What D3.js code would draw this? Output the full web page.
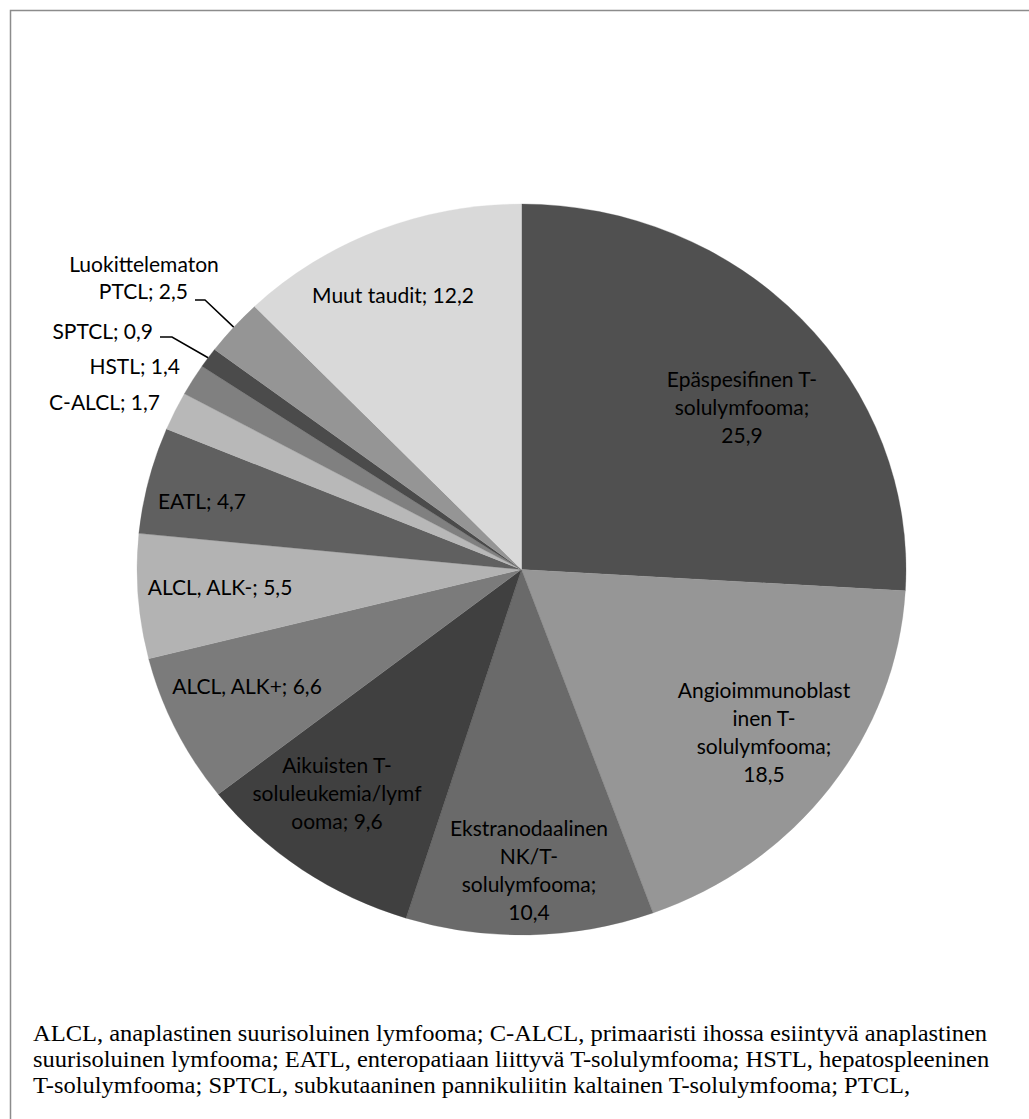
<!DOCTYPE html>
<html>
<head>
<meta charset="utf-8">
<script src="https://d3js.org/d3.v7.min.js"></script>
<style>
  body { margin: 0; background: #fff; }
</style>
</head>
<body>
<svg id="chart" width="1029" height="1119"></svg>
<script>
// data (per cent, clockwise from 12 o'clock)
const categories = [
  "Epäspesifinen T-solulymfooma", "Angioimmunoblastinen T-solulymfooma",
  "Ekstranodaalinen NK/T-solulymfooma", "Aikuisten T-soluleukemia/lymfooma",
  "ALCL, ALK+", "ALCL, ALK-", "EATL", "C-ALCL", "HSTL", "SPTCL",
  "Luokittelematon PTCL", "Muut taudit"
]
const values = [25.9, 18.5, 10.4, 9.6, 6.6, 5.5, 4.7, 1.7, 1.4, 0.9, 2.5, 12.2]
// label lines the way the original wraps them
const labelLines = [
  ["Epäspesifinen T-", "solulymfooma;", "25,9"],
  ["Angioimmunoblast", "inen T-", "solulymfooma;", "18,5"],
  ["Ekstranodaalinen", "NK/T-", "solulymfooma;", "10,4"],
  ["Aikuisten T-", "soluleukemia/lymf", "ooma; 9,6"],
  ["ALCL, ALK+; 6,6"],
  ["ALCL, ALK-; 5,5"],
  ["EATL; 4,7"],
  ["C-ALCL; 1,7"],
  ["HSTL; 1,4"],
  ["SPTCL; 0,9"],
  ["Luokittelematon", "PTCL; 2,5"],
  ["Muut taudit; 12,2"]
]
const greys = ["#505050", "#969696", "#6a6a6a", "#404040", "#7b7b7b", "#b3b3b3",
               "#606060", "#b8b8b8", "#808080", "#4b4b4b", "#959595", "#d9d9d9"]
const footnote = [
  "ALCL, anaplastinen suurisoluinen lymfooma; C-ALCL, primaaristi ihossa esiintyvä anaplastinen",
  "suurisoluinen lymfooma; EATL, enteropatiaan liittyvä T-solulymfooma; HSTL, hepatospleeninen",
  "T-solulymfooma; SPTCL, subkutaaninen pannikuliitin kaltainen T-solulymfooma; PTCL,"
]

// layout: label anchor (x, y of first line centre, anchor) - labels were hand placed in the original
const labelPos = [
  [742, 380, "middle"], [764, 691, "middle"], [529, 829, "middle"], [337, 766, "middle"],
  [247, 687, "middle"], [220, 588, "middle"], [202, 502, "middle"], [160, 403, "end"],
  [180, 367, "end"], [153, 332, "end"], [188, 265, "end"], [393, 296, "middle"]
]
const lineGap = 28
const cx = 521.5, cy = 569.5, rx = 384.5, ry = 365.5
const stretch = rx / ry   // the whole original picture is a little wider than tall

const svg = d3.select("#chart")

// chart frame (only top/left edges fall inside the picture)
svg.append("rect")
  .attr("x", 10.5).attr("y", 10.5)
  .attr("width", 1200).attr("height", 1300)
  .attr("fill", "none").attr("stroke", "#8c8c8c").attr("stroke-width", 1.5)

const pie = d3.pie().sort(null).value(d => d)
const arcs = pie(values)
const arc = d3.arc().innerRadius(0).outerRadius(ry)

svg.append("g")
  .attr("transform", `translate(${cx},${cy}) scale(${stretch},1)`)
  .selectAll("path")
  .data(arcs)
  .join("path")
  .attr("d", arc)
  .attr("fill", (d, i) => greys[i])
  .attr("stroke", (d, i) => greys[i])
  .attr("stroke-width", 0.3)
  .attr("vector-effect", "non-scaling-stroke")

// point on the ellipse rim in the middle of a slice
function rim(d) {
  const a = (d.startAngle + d.endAngle) / 2
  return [cx + rx * Math.sin(a), cy - ry * Math.cos(a)]
}

// leader lines for the two thin slices
const leaders = [
  { i: 9, from: [160, 337], knee: [172, 337] },
  { i: 10, from: [195, 300], knee: [205, 300] }
]
svg.selectAll(".leader")
  .data(leaders)
  .join("polyline")
  .attr("class", "leader")
  .attr("points", d => [d.from, d.knee, rim(arcs[d.i])].map(p => p.join(",")).join(" "))
  .attr("fill", "none").attr("stroke", "#000").attr("stroke-width", 1.5)

const labels = svg.selectAll(".lbl")
  .data(labelLines)
  .join("text")
  .attr("class", "lbl")
  .attr("text-anchor", (d, i) => labelPos[i][2])
  .style("font-family", "Lato, 'Open Sans', sans-serif")
  .style("font-size", "21px")
  .attr("fill", "#000")

labels.selectAll("tspan")
  .data((d, i) => d.map((t, j) => ({ t, j, i })))
  .join("tspan")
  .attr("x", d => d.i === 10 && d.j === 0 ? 144 : labelPos[d.i][0])
  .attr("text-anchor", d => d.i === 10 && d.j === 0 ? "middle" : null)
  .attr("y", d => labelPos[d.i][1] + d.j * (d.i === 10 ? 27 : lineGap))
  .attr("dy", "0.35em")
  .text(d => d.t)

// footnote under the chart
svg.append("g")
  .attr("transform", `translate(33,0) scale(${stretch},1)`)
  .append("text")
  .style("font-family", "'Liberation Serif', 'Times New Roman', serif")
  .style("font-size", "23.3px")
  .attr("fill", "#000")
  .selectAll("tspan")
  .data(footnote)
  .join("tspan")
  .attr("x", 0)
  .attr("y", (d, i) => 1041 + i * 25.8)
  .text(d => d)
</script>
</body>
</html>
